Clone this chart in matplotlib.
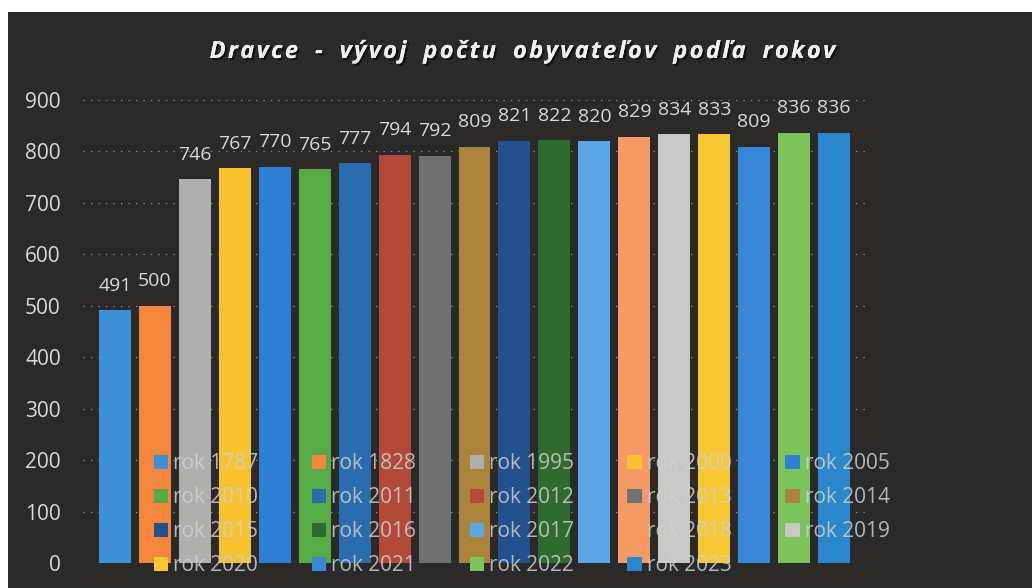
import matplotlib.pyplot as plt
import matplotlib.patheffects as pe
from matplotlib.patches import Rectangle

# data
years = ['1787', '1828', '1995', '2000', '2005', '2010', '2011', '2012', '2013', '2014',
         '2015', '2016', '2017', '2018', '2019', '2020', '2021', '2022', '2023']
population = [491, 500, 746, 767, 770, 765, 777, 794, 792, 809,
              821, 822, 820, 829, 834, 833, 809, 836, 836]
colors = ['#3d8fd8', '#f5873d', '#afafab', '#f8c22f', '#2f80d4', '#58aa48',
          '#2b6cae', '#b24a3b', '#717171', '#aa843c', '#25508e', '#2f6a2e',
          '#5ca7e3', '#f59a66', '#c7c7c3', '#f7c833', '#3886d8', '#7bc35b', '#2a87cc']
yticks = [0, 100, 200, 300, 400, 500, 600, 700, 800, 900]
title = 'Dravce - vývoj počtu obyvateľov podľa rokov'

bg = '#2b2a29'
txt = '#d9d9d9'

fig = plt.figure(figsize=(10.32, 5.88), dpi=100, facecolor='white')
# dark chart area, photo has a white margin top and left
fig.patches.append(Rectangle((8 / 1032, 0), 1, 1 - 12 / 588, transform=fig.transFigure,
                             facecolor=bg, edgecolor='none', zorder=-5))

ax = fig.add_axes([83 / 1032, 25 / 588, (868 - 83) / 1032, (563 - 100) / 588])
ax.set_facecolor('none')
ax.set_zorder(2)

x = list(range(len(years)))
bars = ax.bar(x, population, width=0.8, color=colors, zorder=2)
for b, v in zip(bars, population):
    ax.text(b.get_x() + b.get_width() / 2, v + 30, str(v), ha='center', va='bottom',
            fontsize=14, color=txt, family='Open Sans', clip_on=False, zorder=3)

ax.set_xlim(-0.8, 18.85)
ax.set_ylim(0, 900)
ax.set_yticks(yticks)
ax.set_xticks([])
ax.tick_params(axis='y', length=0, labelsize=15, labelcolor=txt, pad=16)
for lab in ax.get_yticklabels():
    lab.set_family('Open Sans')
ax.grid(axis='y', color='#8f8f8f', linestyle=(0, (1, 5)), linewidth=0.9, zorder=1)
for s in ax.spines.values():
    s.set_visible(False)

# legend in row order of the picture: matplotlib fills column by column
handles = list(bars)
labels = ['rok ' + y for y in years]
ncol = 5
order = []
for c in range(ncol):
    order += list(range(c, len(years), ncol))
leg = ax.legend([handles[i] for i in order], [labels[i] for i in order],
                ncol=ncol, loc='lower left', bbox_to_anchor=(0.066, -0.069),
                frameon=False, prop={'family': 'Open Sans', 'size': 15},
                handlelength=0.7, handleheight=0.7, handletextpad=0.25,
                columnspacing=2.55, labelspacing=0.62)
for t in leg.get_texts():
    t.set_color('#cfcfcf')
    t.set_alpha(0.85)
leg.set_zorder(4)

fig.text(523 / 1032, 1 - 52 / 588, '\u200a'.join(title).replace(' ', '  '),
         ha='center', va='center', fontsize=17, fontweight='bold', fontstyle='italic',
         color='#f2f2f2', family='Open Sans',
         path_effects=[pe.withSimplePatchShadow(offset=(1.5, -1.5), shadow_rgbFace='black', alpha=0.6),
                       pe.Normal()])

fig.savefig('out.png', dpi=100, facecolor=fig.get_facecolor())
